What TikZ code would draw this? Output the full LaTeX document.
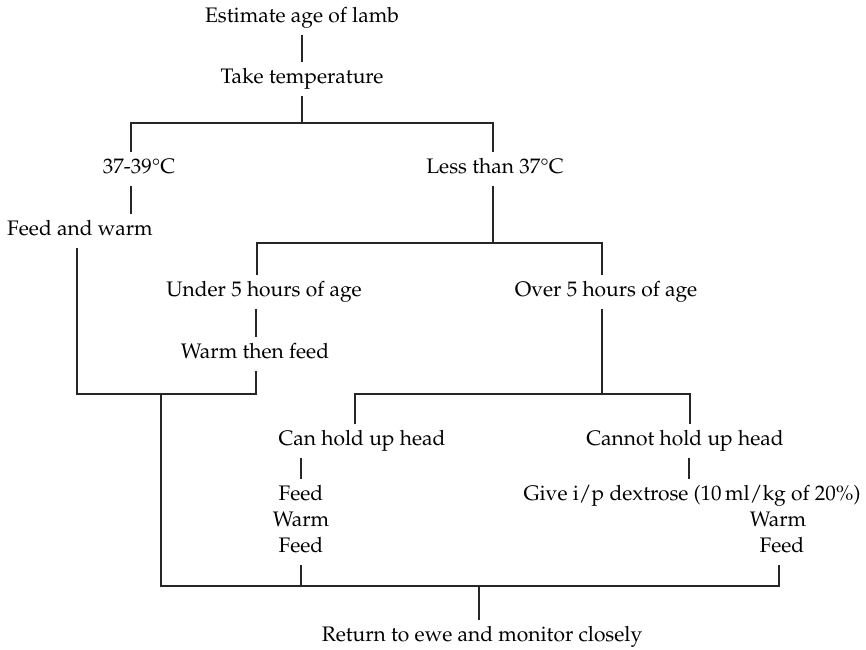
\documentclass[tikz,border=0pt]{standalone}
\usepackage[T1]{fontenc}
\usepackage{mathpazo}
\begin{document}
\begin{tikzpicture}[x=1pt,y=-1pt,
  lbl/.style={inner xsep=0pt,inner ysep=7pt,text height=14pt,text depth=5pt,
    font=\fontsize{21}{26}\selectfont},
  wire/.style={line width=1.2pt,draw=black!85}]
\useasboundingbox (0,0) rectangle (866,649);

% decision labels
\node[lbl] (est)  at (302,18)  {Estimate age of lamb};
\node[lbl] (take) at (302,79)  {Take temperature};
\node[lbl] (norm) at (139,169) {37-39\textdegree C};
\node[lbl] (low)  at (495,169) {Less than 37\textdegree C};
\node[lbl] (fw)   at (80,231)  {Feed and warm};
\node[lbl] (u5)   at (264,292) {Under 5 hours of age};
\node[lbl] (o5)   at (606,292) {Over 5 hours of age};
\node[lbl] (wf)   at (255,354) {Warm then feed};
\node[lbl] (ch)   at (362,441) {Can hold up head};
\node[lbl] (cn)   at (685,441) {Cannot hold up head};
\node[lbl] (lf1)  at (301,496) {Feed};
\node[lbl] (lw)   at (301,522) {Warm};
\node[lbl] (lf2)  at (301,548) {Feed};
\node[lbl] (dex)  at (692,496) {Give i/p dextrose (10\,ml/kg of 20\%)};
\node[lbl] (rw)   at (778,522) {Warm};
\node[lbl] (rf)   at (782,548) {Feed};
\node[lbl] (ret)  at (482,637) {Return to ewe and monitor closely};

% junction points of the tree
\coordinate (j1) at (302,123);
\coordinate (j1l) at (131,123);
\coordinate (j1r) at (493,123);
\coordinate (j2) at (493,243);
\coordinate (j2l) at (257,243);
\coordinate (j2r) at (602,243);
\coordinate (j3l) at (77,394);
\coordinate (j3r) at (256,394);
\coordinate (j3m) at (161,394);
\coordinate (j4l) at (355,394);
\coordinate (j4r) at (690,394);
\coordinate (j4m) at (602,394);
\coordinate (bl) at (161,586);
\coordinate (bm) at (479,586);
\coordinate (br) at (779,586);

% connectors
\draw[wire] (est) -- (take);
\draw[wire] (take) -- (j1);
\draw[wire] (j1l |- norm.north) -- (j1l) -- (j1r) -- (j1r |- low.north);
\draw[wire] (norm.south -| j1l) -- (fw.north -| j1l);
\draw[wire] (low.south -| j2) -- (j2);
\draw[wire] (j2l |- u5.north) -- (j2l) -- (j2r) -- (j2r |- o5.north);
\draw[wire] (u5.south -| j3r) -- (wf.north -| j3r);
\draw[wire] (fw.south -| j3l) -- (j3l) -- (j3r) -- (wf.south -| j3r);
\draw[wire] (o5.south -| j4m) -- (j4m);
\draw[wire] (j4l |- ch.north) -- (j4l) -- (j4r) -- (j4r |- cn.north);
\draw[wire] (ch.south -| lf1) -- (lf1.north);
\draw[wire] (cn.south -| 689,0) -- (dex.north -| 689,0);
\draw[wire] (j3m) -- (bl) -- (br) -- (rf.south -| br);
\draw[wire] (lf2.south) -- (lf2.south |- bl);
\draw[wire] (bm) -- (ret.north -| bm);
\end{tikzpicture}
\end{document}
